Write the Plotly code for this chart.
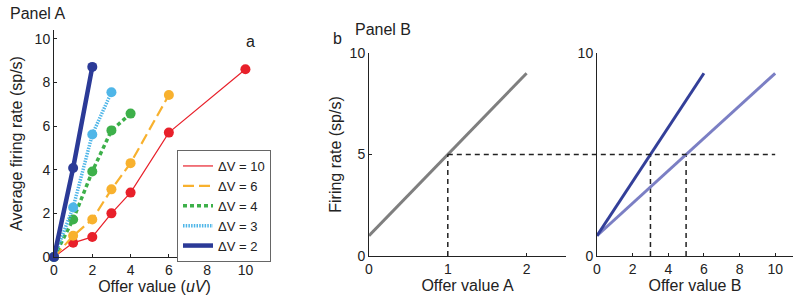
import plotly.graph_objects as go

# ---------------- data ----------------
# Panel A: average firing rate vs offer value for several ΔV
dv_labels = ["ΔV = 10", "ΔV = 6", "ΔV = 4", "ΔV = 3", "ΔV = 2"]
x_dv10 = [0, 1, 2, 3, 4, 6, 10]
y_dv10 = [0, 0.65, 0.92, 2.0, 2.95, 5.7, 8.6]
x_dv6 = [0, 1, 2, 3, 4, 6]
y_dv6 = [0, 0.97, 1.72, 3.1, 4.3, 7.42]
x_dv4 = [0, 1, 2, 3, 4]
y_dv4 = [0, 1.72, 3.92, 5.8, 6.57]
x_dv3 = [0, 1, 2, 3]
y_dv3 = [0, 2.27, 5.61, 7.55]
x_dv2 = [0, 1, 2]
y_dv2 = [0, 4.08, 8.71]

# Panel B: schematic firing-rate lines
xa_line = [0, 2]
ya_line = [1, 9]
xb_steep = [0, 6]
yb_steep = [1, 9]
xb_shallow = [0, 10]
yb_shallow = [1, 9]
ref_rate = 5
ref_a = 1
ref_b = [3, 5]
ref_b_end = 10

# ---------------- style ----------------
FONT = "Liberation Sans, Arial, Helvetica, sans-serif"
W, H = 799, 301
colors = ["#e8202a", "#f8b12e", "#3db04a", "#4fb6e8", "#2b3a97"]
dashes = ["solid", "11px,5px", "4px,3px", "1.5px,1.2px", "solid"]
widths = [1.2, 2.2, 3.5, 3.5, 4.5]

# domains (pixel based)
def dx(a, b):
    return [a / W, b / W]

def dy(top, bottom):
    return [(H - bottom) / H, (H - top) / H]

dom_a_x, dom_a_y = dx(54, 255), dy(30, 257)
dom_b1_x, dom_b1_y = dx(369, 566), dy(53, 256)
dom_b2_x, dom_b2_y = dx(597, 793), dy(53, 256)
range_a_x, range_a_y = [0, 10.5], [0, 10.4]
range_b1_x, range_b_y = [0, 2.5], [0, 10]
range_b2_x = [0, 11]

fig = go.Figure()

series = [(x_dv10, y_dv10), (x_dv6, y_dv6), (x_dv4, y_dv4), (x_dv3, y_dv3), (x_dv2, y_dv2)]
for i, (xs, ys) in enumerate(series):
    fig.add_trace(go.Scatter(
        x=xs, y=ys, mode="lines+markers", xaxis="x", yaxis="y",
        line=dict(color=colors[i], width=widths[i], dash=dashes[i]),
        marker=dict(color=colors[i], size=10),
        showlegend=False, cliponaxis=False))
    # legend-only line sample
    fig.add_trace(go.Scatter(
        x=[None], y=[None], mode="lines", xaxis="x", yaxis="y",
        line=dict(color=colors[i], width=widths[i], dash=dashes[i]),
        name=dv_labels[i], showlegend=True))

# Panel B left
fig.add_trace(go.Scatter(x=xa_line, y=ya_line, mode="lines", xaxis="x2", yaxis="y2",
                         line=dict(color="#7f7f7f", width=3), showlegend=False))
fig.add_trace(go.Scatter(x=[ref_a, ref_a], y=[0, ref_rate], mode="lines", xaxis="x2", yaxis="y2",
                         line=dict(color="#222", width=1.5, dash="5px,4px"), showlegend=False))
# Panel B right
for xv in ref_b:
    fig.add_trace(go.Scatter(x=[xv, xv], y=[0, ref_rate], mode="lines", xaxis="x3", yaxis="y3",
                             line=dict(color="#222", width=1.5, dash="5px,4px"), showlegend=False))
fig.add_trace(go.Scatter(x=xb_shallow, y=yb_shallow, mode="lines", xaxis="x3", yaxis="y3",
                         line=dict(color="#7b7fc4", width=3), showlegend=False))
fig.add_trace(go.Scatter(x=xb_steep, y=yb_steep, mode="lines", xaxis="x3", yaxis="y3",
                         line=dict(color="#333f99", width=3), showlegend=False))

# horizontal dashed reference line across panel B
def to_paper(v, rng, dom):
    return dom[0] + (v - rng[0]) / (rng[1] - rng[0]) * (dom[1] - dom[0])

fig.add_shape(type="line", xref="paper", yref="y2",
              x0=to_paper(ref_a, range_b1_x, dom_b1_x),
              x1=to_paper(ref_b_end, range_b2_x, dom_b2_x),
              y0=ref_rate, y1=ref_rate,
              line=dict(color="#222", width=1.5, dash="5px,4px"))

axis_common = dict(showline=True, linecolor="#222", linewidth=1, showgrid=False,
                   zeroline=False, ticks="inside", ticklen=3, tickcolor="#222",
                   tickfont=dict(size=14, color="#222"), mirror=False, automargin=False)
title_font = dict(size=16, color="#222")

fig.update_layout(
    width=W, height=H,
    margin=dict(l=0, r=0, t=0, b=0),
    paper_bgcolor="white", plot_bgcolor="white",
    font=dict(family=FONT, color="#222"),
    xaxis=dict(domain=dom_a_x, range=range_a_x, anchor="y", tickvals=[0, 2, 4, 6, 8, 10],
               title=dict(text="Offer value (<i>uV</i>)", font=title_font, standoff=4), **axis_common),
    yaxis=dict(domain=dom_a_y, range=range_a_y, anchor="x", tickvals=[0, 2, 4, 6, 8, 10],
               title=dict(text="Average firing rate (sp/s)", font=title_font, standoff=8), **axis_common),
    xaxis2=dict(domain=dom_b1_x, range=range_b1_x, anchor="y2", tickvals=[0, 1, 2],
                title=dict(text="Offer value A", font=title_font, standoff=4), **axis_common),
    yaxis2=dict(domain=dom_b1_y, range=range_b_y, anchor="x2", tickvals=[0, 5, 10],
                title=dict(text="Firing rate (sp/s)", font=title_font, standoff=4), **axis_common),
    xaxis3=dict(domain=dom_b2_x, range=range_b2_x, anchor="y3", tickvals=[0, 2, 4, 6, 8, 10],
                title=dict(text="Offer value B", font=title_font, standoff=4), **axis_common),
    yaxis3=dict(domain=dom_b2_y, range=range_b_y, anchor="x3", tickvals=[0, 10], **axis_common),
    legend=dict(x=177 / W, y=(H - 150) / H, xanchor="left", yanchor="top",
                bordercolor="#666", borderwidth=1, bgcolor="white",
                font=dict(size=13, color="#222"), tracegroupgap=0, itemwidth=30),
    annotations=[
        dict(text="Panel A", x=8 / W, y=(H - 14) / H, xref="paper", yref="paper",
             xanchor="left", yanchor="middle", showarrow=False, font=dict(size=16, color="#222")),
        dict(text="a", x=250 / W, y=(H - 41) / H, xref="paper", yref="paper",
             xanchor="center", yanchor="middle", showarrow=False, font=dict(size=16, color="#222")),
        dict(text="b", x=337 / W, y=(H - 38) / H, xref="paper", yref="paper",
             xanchor="center", yanchor="middle", showarrow=False, font=dict(size=16, color="#222")),
        dict(text="Panel B", x=353 / W, y=(H - 30) / H, xref="paper", yref="paper",
             xanchor="left", yanchor="middle", showarrow=False, font=dict(size=16, color="#222")),
    ],
)

fig.write_html("out.html", config={"displayModeBar": False},
               post_script="document.body.style.margin='0px';")
